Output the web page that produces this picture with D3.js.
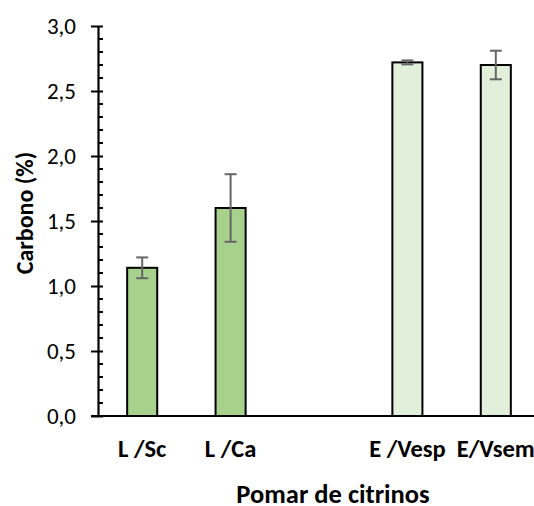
<!DOCTYPE html>
<html>
<head>
<meta charset="utf-8">
<script src="https://cdn.jsdelivr.net/npm/d3@7"></script>
<style>
  html, body { margin: 0; padding: 0; background: #fff; }
  svg { display: block; font-family: Carlito, Lato, "Open Sans", sans-serif; }
</style>
</head>
<body>
<svg id="chart" width="534" height="506"></svg>
<script>
// Carbon content by orchard type
const categories = ["L /Sc", "L /Ca", "E /Vesp", "E/Vsem"];
const slots = ["L /Sc", "L /Ca", "gap", "E /Vesp", "E/Vsem"];
const values = [1.14, 1.60, 2.72, 2.70];
const errors = [0.08, 0.26, 0.015, 0.11];
const groups = ["L", "L", "E", "E"];
const yTicks = [0, 0.5, 1.0, 1.5, 2.0, 2.5, 3.0];
const yTitle = "Carbono (%)";
const xTitle = "Pomar de citrinos";

const colors = { L: "#A9D18E", E: "#E2EFDA" };

const svg = d3.select("#chart");
const plotLeft = 98, plotRight = 540, plotTop = 26, plotBottom = 416;

const x = d3.scaleBand().domain(slots).range([plotLeft, plotRight]).paddingInner(0.66).paddingOuter(0.33);
const y = d3.scaleLinear().domain([0, 3]).range([plotBottom, plotTop]);
const fmt = v => d3.format(".1f")(v).replace(".", ",");

const data = categories.map((c, i) => ({ c, v: values[i], e: errors[i], g: groups[i] }));

// Bars
svg.append("g").selectAll("rect").data(data).join("rect")
  .attr("x", d => x(d.c))
  .attr("y", d => y(d.v))
  .attr("width", x.bandwidth())
  .attr("height", d => y(0) - y(d.v))
  .attr("fill", d => colors[d.g])
  .attr("stroke", "#000")
  .attr("stroke-width", 2);

// Error bars
const eb = svg.append("g").attr("stroke", "#666").attr("stroke-width", 2);
data.forEach(d => {
  const cx = x(d.c) + x.bandwidth() / 2;
  eb.append("line").attr("x1", cx).attr("x2", cx).attr("y1", y(d.v + d.e)).attr("y2", y(d.v - d.e));
  [d.v + d.e, d.v - d.e].forEach(v => {
    eb.append("line").attr("x1", cx - 6).attr("x2", cx + 6).attr("y1", y(v)).attr("y2", y(v));
  });
});

// Minor ticks (inside)
const minor = d3.range(0, 31).map(i => i / 10).filter(v => !yTicks.some(t => Math.abs(t - v) < 1e-9));
svg.append("g").selectAll("line").data(minor).join("line")
  .attr("x1", plotLeft).attr("x2", plotLeft + 5)
  .attr("y1", d => y(d)).attr("y2", d => y(d))
  .attr("stroke", "#000").attr("stroke-width", 2);

// Y axis with crossing major ticks
const yAxis = svg.append("g").attr("transform", `translate(${plotLeft},0)`)
  .call(d3.axisLeft(y).tickValues(yTicks).tickFormat(fmt).tickSizeInner(7).tickSizeOuter(0).tickPadding(15));
yAxis.select(".domain").attr("stroke", "#000").attr("stroke-width", 2.2);
yAxis.selectAll(".tick line").attr("x2", -7).attr("x1", 5).attr("stroke-width", 2);
yAxis.selectAll(".tick text").attr("font-size", 23).attr("fill", "#000")
  .style("font-family", "Carlito, Lato, 'Open Sans', sans-serif");

// X axis
svg.append("line").attr("x1", plotLeft - 7).attr("x2", 534).attr("y1", plotBottom).attr("y2", plotBottom)
  .attr("stroke", "#000").attr("stroke-width", 2.2);

svg.append("g").selectAll("text").data(categories).join("text")
  .attr("x", d => x(d) + x.bandwidth() / 2)
  .attr("y", 457)
  .attr("text-anchor", "middle")
  .attr("font-size", 24.5).attr("font-weight", "bold")
  .text(d => d);

svg.append("text").attr("x", 333).attr("y", 503).attr("text-anchor", "middle")
  .attr("font-size", 26.5).attr("font-weight", "bold").text(xTitle);

svg.append("text").attr("transform", "translate(33,213) rotate(-90)")
  .attr("text-anchor", "middle").attr("font-size", 24).attr("font-weight", "bold").text(yTitle);
</script>
</body>
</html>
